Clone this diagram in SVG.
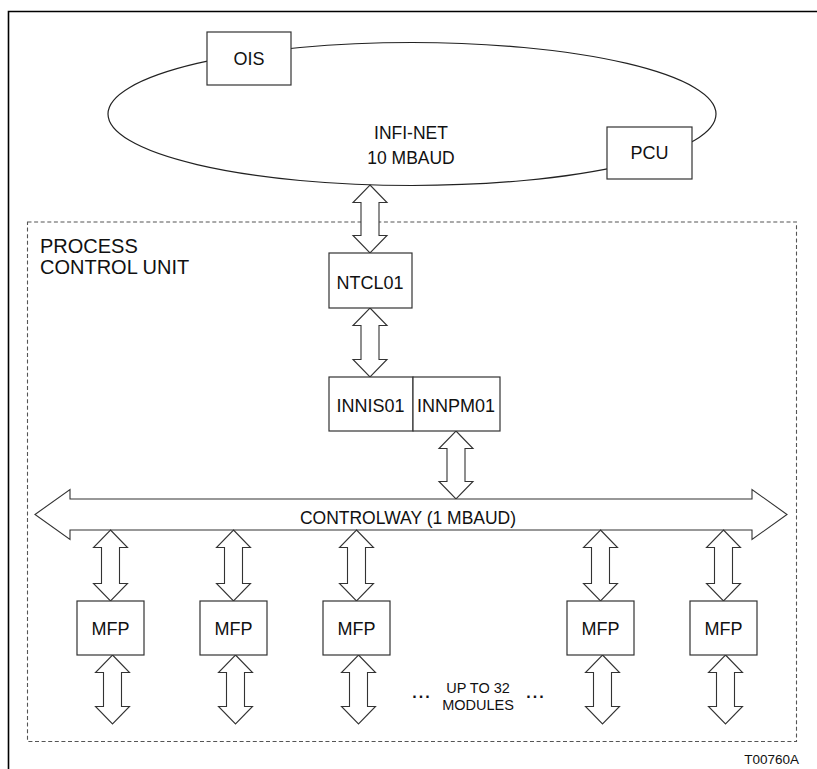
<svg xmlns="http://www.w3.org/2000/svg" width="817" height="769" viewBox="0 0 817 769">
<style>
  .box { fill: #ffffff; stroke: #333333; stroke-width: 1.2; }
  .arr { fill: #ffffff; stroke: #333333; stroke-width: 1.1; stroke-linejoin: miter; }
  .t { font-family: "Liberation Sans", Arial, sans-serif; fill: #111111; }
  .c { text-anchor: middle; }
  .lbl { font-size: 18px; }
</style>
<rect width="817" height="769" fill="#ffffff"/>
<g id="frame">
  <path d="M8.5,769 V11.5 H817" fill="none" stroke="#000000" stroke-width="1.6"/>
</g>
<g id="pcu-boundary">
  <rect x="27.5" y="222" width="769" height="519.5" fill="none" stroke="#555555" stroke-width="1.1" stroke-dasharray="4,2.6"/>
  <text class="t" x="40" y="252.5" font-size="20">PROCESS</text>
  <text class="t" x="40" y="274" font-size="20">CONTROL UNIT</text>
</g>
<g id="infinet">
  <ellipse cx="412" cy="114" rx="304" ry="71.5" fill="none" stroke="#222222" stroke-width="1.2"/>
  <text class="t c" x="411" y="139" font-size="17.5">INFI-NET</text>
  <text class="t c" x="411" y="164" font-size="17.5">10 MBAUD</text>
</g>
<g id="ois">
  <rect class="box" x="207" y="32" width="84" height="53"/>
  <text class="t c lbl" x="249" y="65">OIS</text>
</g>
<g id="pcu">
  <rect class="box" x="607" y="127" width="85" height="52"/>
  <text class="t c lbl" x="649.5" y="159">PCU</text>
</g>
<g id="connectors">
  <polygon class="arr" points="370,185 387,202.5 379,202.5 379,235.5 387,235.5 370,253 353,235.5 361,235.5 361,202.5 353,202.5"/>
  <polygon class="arr" points="370,308 387,325.5 379,325.5 379,359.5 387,359.5 370,377 353,359.5 361,359.5 361,325.5 353,325.5"/>
  <polygon class="arr" points="456,431 473,448.5 465,448.5 465,481.5 473,481.5 456,499 439,481.5 447,481.5 447,448.5 439,448.5"/>
  <polygon id="controlway" class="arr" points="35,514.5 70,489.5 70,499 752,499 752,489.5 787,514.5 752,539.5 752,530 70,530 70,539.5"/>
  <polygon class="arr" points="110.5,530 127.5,547.5 119.5,547.5 119.5,583.5 127.5,583.5 110.5,601 93.5,583.5 101.5,583.5 101.5,547.5 93.5,547.5"/>
  <polygon class="arr" points="233.5,530 250.5,547.5 242.5,547.5 242.5,583.5 250.5,583.5 233.5,601 216.5,583.5 224.5,583.5 224.5,547.5 216.5,547.5"/>
  <polygon class="arr" points="356.5,530 373.5,547.5 365.5,547.5 365.5,583.5 373.5,583.5 356.5,601 339.5,583.5 347.5,583.5 347.5,547.5 339.5,547.5"/>
  <polygon class="arr" points="600.5,530 617.5,547.5 609.5,547.5 609.5,583.5 617.5,583.5 600.5,601 583.5,583.5 591.5,583.5 591.5,547.5 583.5,547.5"/>
  <polygon class="arr" points="723.5,530 740.5,547.5 732.5,547.5 732.5,583.5 740.5,583.5 723.5,601 706.5,583.5 714.5,583.5 714.5,547.5 706.5,547.5"/>
  <polygon class="arr" points="112.5,655 129.5,672.5 121.5,672.5 121.5,706.5 129.5,706.5 112.5,724 95.5,706.5 103.5,706.5 103.5,672.5 95.5,672.5"/>
  <polygon class="arr" points="235.5,655 252.5,672.5 244.5,672.5 244.5,706.5 252.5,706.5 235.5,724 218.5,706.5 226.5,706.5 226.5,672.5 218.5,672.5"/>
  <polygon class="arr" points="358.5,655 375.5,672.5 367.5,672.5 367.5,706.5 375.5,706.5 358.5,724 341.5,706.5 349.5,706.5 349.5,672.5 341.5,672.5"/>
  <polygon class="arr" points="602.5,655 619.5,672.5 611.5,672.5 611.5,706.5 619.5,706.5 602.5,724 585.5,706.5 593.5,706.5 593.5,672.5 585.5,672.5"/>
  <polygon class="arr" points="725.5,655 742.5,672.5 734.5,672.5 734.5,706.5 742.5,706.5 725.5,724 708.5,706.5 716.5,706.5 716.5,672.5 708.5,672.5"/>
  <text class="t c" x="408" y="524" font-size="17.5">CONTROLWAY (1 MBAUD)</text>
</g>
<g id="ntcl01">
  <rect class="box" x="329" y="253" width="83" height="55"/>
  <text class="t c lbl" x="370" y="289">NTCL01</text>
</g>
<g id="innis01">
  <rect class="box" x="329" y="377" width="84" height="54"/>
  <text class="t c lbl" x="370.5" y="412">INNIS01</text>
</g>
<g id="innpm01">
  <rect class="box" x="413" y="377" width="87" height="54"/>
  <text class="t c lbl" x="456" y="412">INNPM01</text>
</g>
<g id="mfp1">
  <rect class="box" x="77" y="601" width="67" height="54"/>
  <text class="t c lbl" x="110.5" y="635">MFP</text>
</g>
<g id="mfp2">
  <rect class="box" x="200" y="601" width="67" height="54"/>
  <text class="t c lbl" x="233.5" y="635">MFP</text>
</g>
<g id="mfp3">
  <rect class="box" x="323" y="601" width="67" height="54"/>
  <text class="t c lbl" x="356.5" y="635">MFP</text>
</g>
<g id="mfp4">
  <rect class="box" x="567" y="601" width="67" height="54"/>
  <text class="t c lbl" x="600.5" y="635">MFP</text>
</g>
<g id="mfp5">
  <rect class="box" x="690" y="601" width="67" height="54"/>
  <text class="t c lbl" x="723.5" y="635">MFP</text>
</g>
<g id="modules-note">
  <text class="t c" x="478" y="693" font-size="14.5">UP TO 32</text>
  <text class="t c" x="478" y="710" font-size="14.5">MODULES</text>
  <text class="t c" x="422" y="698" font-size="16" font-weight="bold" letter-spacing="2">...</text>
  <text class="t c" x="536" y="698" font-size="16" font-weight="bold" letter-spacing="2">...</text>
</g>
<g id="figure-id">
  <text class="t" x="799" y="764" font-size="13.5" text-anchor="end">T00760A</text>
</g>
</svg>
